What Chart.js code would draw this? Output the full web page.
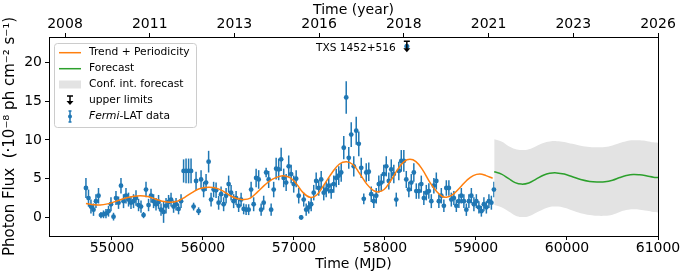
<!DOCTYPE html>
<html>
<head>
<meta charset="utf-8">
<script src="https://cdn.jsdelivr.net/npm/chart.js@4.4.1/dist/chart.umd.min.js"></script>
<style>
  html, body { margin: 0; padding: 0; background: #fff; }
  #c { display: block; }
</style>
</head>
<body>
<canvas id="c" width="687" height="278"></canvas>
<script>
// Fermi-LAT light curve of TXS 1452+516 (monthly bins), trend + forecast

const mjd = [
  54714, 54742, 54769, 54797, 54824, 54852, 54879, 54907, 54934, 54962,
  54989, 55017, 55044, 55072, 55099, 55127, 55154, 55182, 55209, 55237,
  55264, 55292, 55319, 55347, 55374, 55402, 55429, 55457, 55484, 55512,
  55539, 55567, 55594, 55622, 55649, 55677, 55704, 55732, 55759, 55787,
  55814, 55842, 55869, 55897, 55924, 55952, 55979, 56007, 56034, 56062,
  56089, 56117, 56144, 56172, 56199, 56227, 56254, 56282, 56309, 56337,
  56364, 56392, 56419, 56447, 56474, 56502, 56529, 56557, 56584, 56612,
  56639, 56667, 56694, 56722, 56749, 56777, 56804, 56832, 56859, 56887,
  56914, 56942, 56969, 56997, 57024, 57052, 57079, 57107, 57134, 57162,
  57189, 57217, 57244, 57272, 57299, 57327, 57354, 57382, 57409, 57437,
  57464, 57492, 57519, 57547, 57574, 57602, 57629, 57657, 57684, 57712,
  57739, 57767, 57794, 57822, 57849, 57877, 57904, 57932, 57959, 57987,
  58014, 58042, 58069, 58097, 58124, 58152, 58179, 58207, 58234, 58262,
  58289, 58317, 58344, 58372, 58399, 58427, 58454, 58482, 58509, 58537,
  58564, 58592, 58619, 58647, 58674, 58702, 58729, 58757, 58784, 58812,
  58839, 58867, 58894, 58922, 58949, 58977, 59004, 59032, 59059, 59087,
  59114, 59142, 59169, 59197
];
const flux = [
  3.8, 2.5, 1.4, 1.0, 2.1, 2.8, 0.3, 0.4, 0.5, 0.8,
  1.7, 0.1, 2.5, 1.9, 4.1, 2.1, 2.8, 2.3, 1.9, 2.1,
  2.5, 1.6, 1.4, 0.3, 3.6, 1.6, 2.8, 2.1, 1.7, 2.0,
  1.0, 0.7, 1.5, 2.0, 2.3, 1.4, 1.7, 1.1, 2.1, 6.0,
  6.0, 6.0, 6.0, 1.4, 4.7, 0.8, 4.9, 3.6, 4.5, 7.2,
  2.3, 3.6, 3.5, 1.9, 3.0, 1.7, 2.8, 4.3, 3.2, 2.1,
  2.5, 1.5, 2.3, 1.1, 1.0, 1.0, 3.6, 1.7, 5.1, 4.9,
  1.0, 1.9, 5.8, 4.9, 1.0, 3.6, 6.3, 6.2, 7.5, 5.1,
  4.5, 6.6, 5.6, 4.3, 5.0, 2.8, 0.0, 2.3, 1.0, 1.3,
  1.7, 3.2, 4.7, 3.8, 4.9, 3.2, 3.6, 4.1, 3.4, 4.3,
  5.1, 5.4, 5.8, 9.0, 15.5, 7.7, 10.7, 6.6, 11.2, 9.5,
  6.4, 2.4, 5.8, 5.9, 3.0, 2.1, 2.8, 4.3, 4.5, 5.6,
  6.6, 4.7, 6.2, 5.6, 2.3, 6.0, 7.3, 7.3, 4.9, 3.6,
  4.5, 5.8, 3.4, 3.4, 4.3, 2.5, 3.2, 3.4, 2.1, 4.1,
  4.7, 2.1, 2.8, 1.5, 3.8, 3.8, 2.3, 2.5, 1.5, 2.1,
  2.8, 2.1, 1.0, 2.1, 2.8, 1.7, 2.1, 1.3, 0.8, 1.7,
  1.3, 2.1, 1.9, 3.6
];
const fluxErr = [
  1.3, 1.1, 0.9, 0.8, 0.9, 1.0, 0.4, 0.5, 0.6, 0.7,
  0.9, 0.5, 0.9, 0.8, 1.0, 0.9, 1.0, 0.9, 0.8, 0.9,
  1.0, 0.8, 0.8, 0.4, 1.0, 0.8, 0.9, 0.9, 0.8, 0.9,
  0.8, 1.4, 1.0, 0.9, 0.9, 0.8, 0.8, 0.7, 0.9, 1.5,
  1.6, 1.6, 1.6, 0.5, 1.2, 0.5, 1.2, 1.0, 1.1, 1.4,
  0.9, 1.0, 1.0, 0.9, 1.0, 0.9, 1.0, 1.1, 1.0, 0.9,
  0.9, 0.8, 0.9, 0.7, 0.7, 0.7, 1.0, 0.9, 1.2, 1.2,
  0.8, 0.9, 0.6, 1.1, 0.8, 1.0, 1.4, 1.4, 1.5, 1.2,
  1.1, 1.4, 1.2, 1.1, 1.1, 1.0, 0.3, 0.9, 0.8, 0.8,
  0.9, 1.0, 1.1, 1.0, 1.1, 1.0, 1.0, 1.0, 1.0, 1.1,
  1.2, 1.2, 1.2, 1.5, 2.1, 1.4, 1.6, 1.3, 1.8, 1.6,
  1.3, 0.7, 1.2, 1.2, 1.0, 0.9, 1.0, 1.1, 1.1, 1.2,
  1.3, 1.1, 1.3, 1.2, 0.9, 1.2, 1.4, 1.4, 1.1, 1.0,
  1.1, 1.2, 1.0, 1.0, 1.1, 0.9, 1.0, 1.0, 0.9, 1.0,
  1.1, 0.9, 1.0, 0.8, 1.0, 1.0, 0.9, 0.9, 0.8, 0.9,
  1.0, 0.9, 0.8, 0.9, 1.0, 0.9, 0.9, 0.8, 0.7, 0.9,
  0.8, 0.9, 0.9, 1.0
];

// upper limit
const ulMjd = 58240;
const ulFlux = 22.1;

// trend + periodicity model
const trendMjd = [
  54714, 54800, 54870, 54950, 55050, 55150, 55230, 55310, 55390, 55470,
  55550, 55640, 55720, 55800, 55880, 55960, 56060, 56140, 56220, 56300,
  56380, 56450, 56520, 56600, 56680, 56760, 56840, 56900, 56960, 57030,
  57100, 57176, 57250, 57330, 57420, 57500, 57578, 57650, 57720, 57800,
  57870, 57926, 57990, 58060, 58140, 58210, 58274, 58340, 58410, 58490,
  58570, 58630, 58677, 58740, 58820, 58900, 58970, 59043, 59110, 59183
];
const trendFlux = [
  1.8, 1.65, 1.6, 1.75, 2.1, 2.5, 2.7, 2.8, 2.7, 2.4,
  2.1, 1.95, 2.1, 2.6, 3.2, 3.7, 3.9, 3.8, 3.4, 2.8,
  2.4, 2.3, 2.5, 3.3, 4.2, 4.9, 5.3, 5.35, 5.1, 4.3,
  3.2, 2.6, 2.9, 4.2, 5.8, 6.9, 7.2, 6.8, 5.7, 4.3,
  3.5, 3.3, 3.6, 4.7, 6.2, 7.2, 7.5, 7.2, 6.2, 4.6,
  3.3, 2.7, 2.6, 2.9, 3.8, 4.8, 5.4, 5.6, 5.4, 5.05
];

// forecast and its confidence interval
const fcMjd = [
  59200, 59280, 59360, 59430, 59500, 59580, 59660, 59740, 59810, 59886,
  59970, 60060, 60150, 60250, 60330, 60417, 60500, 60580, 60650, 60728,
  60800, 60880, 60950, 61000
];
const fcFlux = [
  5.9, 5.6, 5.0, 4.5, 4.3, 4.45, 4.95, 5.45, 5.7, 5.75,
  5.6, 5.25, 4.9, 4.65, 4.58, 4.6, 4.8, 5.15, 5.4, 5.55,
  5.5, 5.35, 5.2, 5.15
];
const fcUpper = [
  10.1, 9.8, 9.2, 8.85, 8.7, 8.8, 9.2, 9.6, 9.8, 9.85,
  9.75, 9.5, 9.25, 9.1, 9.05, 9.1, 9.3, 9.6, 9.85, 9.95,
  9.95, 9.85, 9.7, 9.65
];
const fcLower = [
  1.6, 1.3, 0.75, 0.25, 0.05, 0.15, 0.6, 1.05, 1.35, 1.4,
  1.25, 0.9, 0.55, 0.3, 0.2, 0.2, 0.35, 0.7, 0.95, 1.05,
  1.0, 0.85, 0.7, 0.65
];

// axis ticks
const xTicks = [55000, 56000, 57000, 58000, 59000, 60000, 61000];
const yTicks = [0, 5, 10, 15, 20];
const yearTickMjd = [54484, 55415, 56345, 57276, 58207, 59138, 60069, 61000];
const yearLabels = ['2008', '2011', '2013', '2016', '2018', '2021', '2023', '2026'];

const FONT = "'DejaVu Sans', sans-serif";
const BLUE = '#1f77b4', ORANGE = '#ff7f0e', GREEN = '#2ca02c', BAND = '#e3e3e3';

const xy = (xs, ys) => xs.map((v, i) => ({ x: v, y: ys[i] }));

// error bars under the points
const errorBars = {
  id: 'errorBars',
  beforeDatasetsDraw(chart) {
    const { ctx, scales: { x, y } } = chart;
    ctx.save();
    ctx.strokeStyle = BLUE;
    ctx.lineWidth = 1.5;
    mjd.forEach((m, i) => {
      const px = x.getPixelForValue(m);
      ctx.beginPath();
      ctx.moveTo(px, y.getPixelForValue(flux[i] - fluxErr[i]));
      ctx.lineTo(px, y.getPixelForValue(flux[i] + fluxErr[i]));
      ctx.stroke();
    });
    ctx.restore();
  }
};

function drawUpperLimit(ctx, px, top, bottom) {
  ctx.save();
  ctx.strokeStyle = '#000';
  ctx.fillStyle = '#000';
  ctx.lineWidth = 1.5;
  ctx.beginPath();
  ctx.moveTo(px - 3, top); ctx.lineTo(px + 3, top);
  ctx.moveTo(px, top); ctx.lineTo(px, bottom - 3);
  ctx.stroke();
  ctx.beginPath();
  ctx.moveTo(px - 3.5, bottom - 4);
  ctx.lineTo(px + 3.5, bottom - 4);
  ctx.lineTo(px, bottom);
  ctx.closePath();
  ctx.fill();
  ctx.restore();
}

// upper limit, annotation, legend and frame
const overlay = {
  id: 'overlay',
  afterDatasetsDraw(chart) {
    const { ctx, chartArea: a, scales: { x, y } } = chart;

    // upper limit marker
    const ux = x.getPixelForValue(ulMjd);
    const uy = y.getPixelForValue(ulFlux);
    ctx.save();
    ctx.fillStyle = BLUE;
    ctx.beginPath(); ctx.arc(ux, uy, 2.5, 0, Math.PI * 2); ctx.fill();
    ctx.restore();
    drawUpperLimit(ctx, ux, uy - 5, uy + 6);

    // source name
    ctx.save();
    ctx.font = '10.6px ' + FONT;
    ctx.fillStyle = '#000';
    ctx.textAlign = 'right';
    ctx.textBaseline = 'middle';
    ctx.fillText('TXS 1452+516', ux - 11, uy + 2);
    ctx.restore();

    // legend
    ctx.save();
    ctx.fillStyle = 'rgba(255,255,255,0.85)';
    ctx.strokeStyle = '#cccccc';
    ctx.lineWidth = 1;
    ctx.beginPath();
    ctx.roundRect(54.5, 43.5, 142, 84, 3);
    ctx.fill(); ctx.stroke();

    const hx0 = 59, hx1 = 81, tx = 89;
    const rows = [52.7, 68.7, 84.5, 100.6, 116.6];
    ctx.lineWidth = 1.5;
    ctx.strokeStyle = ORANGE;
    ctx.beginPath(); ctx.moveTo(hx0, rows[0]); ctx.lineTo(hx1, rows[0]); ctx.stroke();
    ctx.strokeStyle = GREEN;
    ctx.beginPath(); ctx.moveTo(hx0, rows[1]); ctx.lineTo(hx1, rows[1]); ctx.stroke();
    ctx.fillStyle = BAND;
    ctx.fillRect(hx0, rows[2] - 4, hx1 - hx0, 8);
    drawUpperLimit(ctx, 70, rows[3] - 4.5, rows[3] + 4.5);
    ctx.strokeStyle = BLUE;
    ctx.beginPath();
    ctx.moveTo(70, rows[4] - 5.5); ctx.lineTo(70, rows[4] + 5.5);
    ctx.moveTo(68.5, rows[4] - 5.5); ctx.lineTo(71.5, rows[4] - 5.5);
    ctx.moveTo(68.5, rows[4] + 5.5); ctx.lineTo(71.5, rows[4] + 5.5);
    ctx.stroke();
    ctx.fillStyle = BLUE;
    ctx.beginPath(); ctx.arc(70, rows[4], 2, 0, Math.PI * 2); ctx.fill();

    ctx.fillStyle = '#000';
    ctx.textBaseline = 'middle';
    ctx.font = '10.7px ' + FONT;
    ctx.fillText('Trend + Periodicity', tx, rows[0]);
    ctx.fillText('Forecast', tx, rows[1]);
    ctx.fillText('Conf. int. forecast', tx, rows[2]);
    ctx.fillText('upper limits', tx, rows[3]);
    ctx.font = 'italic 10.7px ' + FONT;
    ctx.fillText('Fermi', tx, rows[4]);
    const w = ctx.measureText('Fermi').width;
    ctx.font = '10.7px ' + FONT;
    ctx.fillText('-LAT data', tx + w, rows[4]);
    ctx.restore();

    // axes frame
    ctx.save();
    ctx.strokeStyle = '#000';
    ctx.lineWidth = 1;
    ctx.strokeRect(Math.round(a.left) + 0.5, Math.round(a.top) + 0.5,
      Math.round(a.right - a.left), Math.round(a.bottom - a.top));
    ctx.restore();
  }
};

const tickFont = { family: FONT, size: 14 };
const titleFont = { family: FONT, size: 14 };
const gridOpts = { display: true, drawOnChartArea: false, drawTicks: true, tickLength: 4, tickColor: '#000', tickWidth: 1 };

new Chart(document.getElementById('c'), {
  type: 'scatter',
  data: {
    datasets: [
      { data: xy(fcMjd, fcLower), showLine: true, borderWidth: 0, pointRadius: 0, tension: 0.4, fill: false, order: 5 },
      { data: xy(fcMjd, fcUpper), showLine: true, borderWidth: 0, pointRadius: 0, tension: 0.4, fill: '-1', backgroundColor: BAND, order: 4 },
      { data: xy(fcMjd, fcFlux), showLine: true, borderColor: GREEN, borderWidth: 1.5, pointRadius: 0, tension: 0.4, order: 1 },
      { data: xy(mjd, flux), pointRadius: 2.4, pointBackgroundColor: BLUE, pointBorderWidth: 0, order: 2 },
      { data: xy(trendMjd, trendFlux), showLine: true, borderColor: ORANGE, borderWidth: 1.5, pointRadius: 0, tension: 0.4, order: 0 }
    ]
  },
  options: {
    responsive: false,
    animation: false,
    devicePixelRatio: 1,
    layout: { padding: { left: 0, right: 29, top: 0, bottom: 0 } },
    plugins: { legend: { display: false }, tooltip: { enabled: false } },
    scales: {
      x: {
        type: 'linear', position: 'bottom', min: 54308, max: 61000,
        afterBuildTicks: (s) => { s.ticks = xTicks.map(v => ({ value: v })); },
        afterFit: (s) => { s.height = 42; },
        grid: gridOpts, border: { display: false },
        ticks: { font: tickFont, color: '#000', padding: 0, maxRotation: 0, autoSkip: false, callback: (v) => String(v) },
        title: { display: true, text: 'Time (MJD)', font: titleFont, color: '#000', padding: { top: 0, bottom: 5 } }
      },
      x2: {
        type: 'linear', position: 'top', min: 54308, max: 61000,
        afterBuildTicks: (s) => { s.ticks = yearTickMjd.map(v => ({ value: v })); },
        afterFit: (s) => { s.height = 37; },
        grid: gridOpts, border: { display: false },
        ticks: { font: tickFont, color: '#000', padding: 0, maxRotation: 0, autoSkip: false, callback: (v, i) => yearLabels[i] },
        title: { display: true, text: 'Time (year)', font: titleFont, color: '#000', padding: { top: 2, bottom: 0 } }
      },
      y: {
        type: 'linear', min: -2.4, max: 23.3,
        afterBuildTicks: (s) => { s.ticks = yTicks.map(v => ({ value: v })); },
        afterFit: (s) => { s.width = 49; },
        grid: gridOpts, border: { display: false },
        ticks: { font: tickFont, color: '#000', padding: 3 },
        title: { display: true, text: 'Photon Flux  (·10⁻⁸ ph cm⁻² s⁻¹)', font: { family: FONT, size: 15 }, color: '#000', padding: { top: 1, bottom: 0 } }
      }
    }
  },
  plugins: [errorBars, overlay]
});
</script>
</body>
</html>
